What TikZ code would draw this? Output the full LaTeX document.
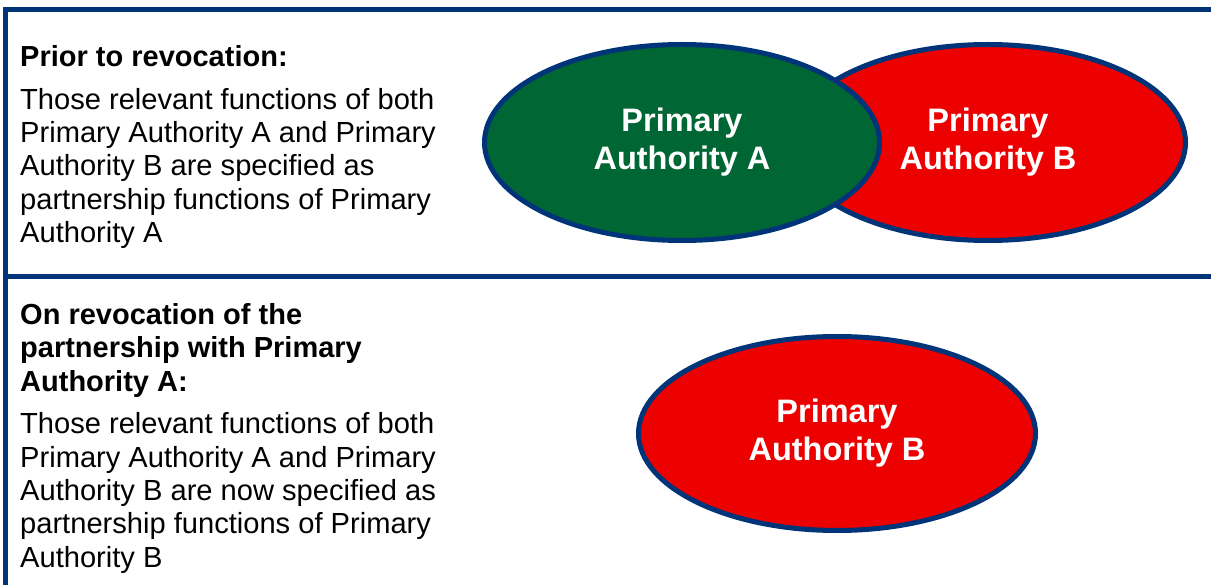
\documentclass[tikz,border=0pt]{standalone}
\usepackage{fontspec}
\setmainfont{Liberation Sans}
\usetikzlibrary{shapes.geometric}
\definecolor{rulebl}{RGB}{0,52,120}
\definecolor{pagreen}{RGB}{0,103,52}
\definecolor{pared}{RGB}{236,0,0}
\tikzset{
  rulebar/.style={draw=rulebl, line width=5pt},
  para/.style={anchor=base west, inner sep=0pt, align=left,
    font=\fontsize{29.1}{33.4}\selectfont},
  headpara/.style={para, font=\bfseries\fontsize{29}{33.7}\selectfont},
  authority/.style={ellipse, draw=rulebl, line width=5pt, minimum width=395pt,
    minimum height=196pt, inner sep=0pt, text=white, align=center,
    font=\bfseries\fontsize{32.5}{38}\selectfont}
}
\begin{document}
\begin{tikzpicture}[x=1pt,y=-1pt]
\useasboundingbox (0,0) rectangle (1211,585);
% frame rules
\coordinate (tl) at (3,9.5);
\coordinate (tr) at (1211,9.5);
\coordinate (lt) at (5.5,7);
\coordinate (lb) at (5.5,585);
\coordinate (ml) at (3,277);
\coordinate (mr) at (1211,277);
\draw[rulebar] (tl) -- (tr);
\draw[rulebar] (lt) -- (lb);
\draw[rulebar] (ml) -- (mr);
% top section text (base anchor = last line baseline)
\node[headpara] (h1) at (20,67) {Prior to revocation:};
\node[para] (p1) at (20,242.8) {Those relevant functions of both\\Primary Authority A and Primary\\Authority B are specified as\\partnership functions of Primary\\Authority A};
% bottom section text
\node[headpara] (h2) at (20,391.4) {On revocation of the\\partnership with Primary\\Authority A:};
\node[para] (p2) at (20,567.3) {Those relevant functions of both\\Primary Authority A and Primary\\Authority B are now specified as\\partnership functions of Primary\\Authority B};
% ellipses
\node[authority, fill=pared] (paB) at (988,142.5) {Primary\\Authority B};
\node[authority, fill=pagreen] (paA) at (682,142.5) {Primary\\Authority A};
\node[authority, fill=pared, minimum width=397pt, minimum height=194pt] (paB2) at (837,433.5) {Primary\\Authority B};
\end{tikzpicture}
\end{document}
